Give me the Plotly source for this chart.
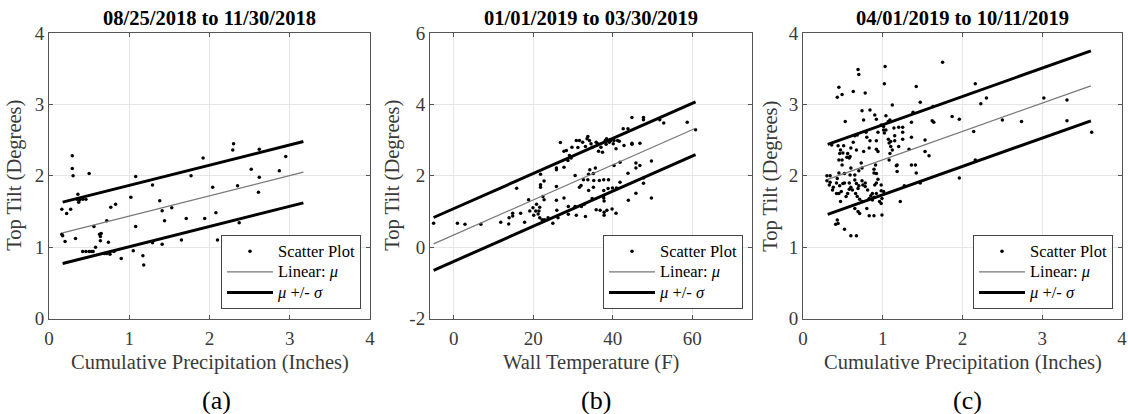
import plotly.graph_objects as go

# ---------------- data ----------------
titles = ["08/25/2018 to 11/30/2018", "01/01/2019 to 03/30/2019", "04/01/2019 to 10/11/2019"]
x_titles = ["Cumulative Precipitation (Inches)", "Wall Temperature (F)", "Cumulative Precipitation (Inches)"]
y_title = "Top Tilt (Degrees)"
panel_labels = ["(a)", "(b)", "(c)"]

a_x = [0.16, 0.22, 0.27, 0.29, 0.29, 0.30, 0.16, 0.17, 0.20, 0.33, 0.35, 0.36, 0.37, 0.38, 0.42,
       0.46, 0.50, 0.42, 0.46, 0.50, 0.53, 0.56, 0.58, 0.55, 0.63, 0.64, 0.64, 0.65, 0.69, 0.72,
       0.74, 0.72, 0.76, 0.77, 0.83, 0.81, 0.90, 1.02, 1.05, 1.08, 1.08, 1.17, 1.18, 1.29, 1.29,
       1.38, 1.41, 1.41, 1.44, 1.53, 1.65, 1.71, 1.77, 1.92, 1.94, 2.04, 2.08, 2.10, 2.29, 2.30,
       2.35, 2.37, 2.52, 2.62, 2.62, 2.61, 2.87, 2.95]
a_y = [1.53, 1.47, 1.53, 2.28, 2.10, 2.00, 1.18, 1.16, 1.08, 1.12, 1.67, 1.74, 1.63, 1.66, 1.67,
       1.67, 2.03, 0.94, 0.94, 0.94, 0.94, 1.29, 1.00, 0.94, 1.18, 1.15, 1.09, 1.19, 0.91, 1.37,
       1.07, 0.91, 0.90, 1.56, 1.60, 0.94, 0.84, 1.70, 0.95, 1.99, 1.29, 0.88, 0.75, 1.87, 1.06,
       1.65, 1.51, 1.04, 1.37, 1.55, 1.10, 1.40, 2.00, 2.25, 1.40, 1.84, 1.48, 1.10, 2.36, 2.45,
       1.86, 1.34, 2.09, 2.37, 1.98, 1.77, 2.07, 2.27]
a_fit_x = [0.17, 3.17]
a_fit_mu = [1.20, 2.05]
a_sigma = 0.43

b_x = [-5.1, 0.9, 2.8, 6.8, 11.8, 13.8, 13.9, 14.8, 14.8, 15.8, 16.8, 17.8, 18.8, 19.1, 19.9, 20.1,
       20.6, 20.8, 21.2, 21.4, 21.6, 21.6, 21.8, 21.8, 21.8, 22.2, 22.4, 22.7, 22.7, 22.8, 23.7, 24.9,
       25.8, 25.8, 25.8, 25.8, 25.9, 26.2, 26.8, 27.7, 27.7, 27.7, 28.3, 28.7, 28.8, 28.8, 29.1, 29.5,
       29.7, 30.5, 30.5, 30.8, 30.8, 31.2, 31.6, 31.6, 32.0, 32.1, 32.4, 32.6, 32.8, 33.1, 33.1, 33.5,
       33.7, 33.7, 33.9, 33.9, 34.1, 34.2, 34.5, 34.8, 34.8, 35.1, 35.1, 35.2, 35.6, 35.8, 35.8, 36.2,
       36.4, 36.6, 36.8, 37.0, 37.4, 37.7, 37.7, 37.7, 37.7, 37.8, 37.8, 37.8, 38.1, 38.3, 38.4, 38.5,
       38.8, 38.9, 39.1, 39.3, 39.5, 39.8, 39.9, 40.1, 40.3, 40.3, 40.8, 40.8, 40.9, 41.2, 41.6, 41.8,
       41.8, 42.6, 42.8, 43.8, 43.8, 43.9, 44.8, 44.8, 44.8, 45.8, 45.8, 45.8, 46.8, 46.8, 47.7, 47.7,
       47.7, 47.7, 49.7, 49.7, 51.8, 52.8, 58.7, 60.8]
b_y = [0.67, 0.67, 0.64, 0.64, 0.70, 0.65, 0.82, 0.87, 0.95, 1.65, 0.95, 0.70, 1.33, 1.01, 1.10, 0.89,
       1.01, 1.20, 0.93, 1.01, 0.82, 1.12, 2.04, 1.75, 1.68, 0.77, 1.42, 1.85, 1.33, 0.77, 0.82, 0.67,
       1.31, 1.70, 2.17, 2.22, 1.03, 0.82, 2.93, 2.69, 2.24, 1.38, 2.71, 2.43, 1.14, 0.92, 2.57, 2.50,
       2.80, 1.14, 2.01, 0.89, 2.99, 2.79, 1.68, 2.99, 1.73, 1.14, 2.94, 1.89, 1.20, 0.86, 2.82, 3.04,
       3.10, 1.89, 2.04, 1.59, 2.99, 2.17, 2.90, 2.80, 1.36, 2.06, 1.68, 1.87, 2.22, 1.05, 2.94, 2.90,
       2.69, 1.87, 1.03, 2.80, 2.66, 1.89, 1.59, 1.45, 1.38, 1.29, 0.98, 0.89, 2.99, 2.88, 3.04, 1.03,
       1.64, 1.89, 2.94, 3.01, 2.99, 1.07, 1.66, 2.90, 2.99, 2.29, 2.76, 0.95, 1.66, 2.99, 2.97, 1.82,
       2.38, 3.32, 2.85, 3.32, 2.07, 1.31, 3.63, 2.91, 2.88, 2.36, 2.22, 1.51, 2.91, 2.29, 3.63, 3.57,
       1.94, 1.79, 2.41, 1.38, 3.57, 3.48, 3.50, 3.29]
b_fit_x = [-5.1, 60.8]
b_fit_mu = [0.09, 3.33]
b_sigma = 0.74

c_x = [0.45, 0.43, 0.49, 0.69, 0.70, 0.63, 0.78, 1.03, 1.02, 1.75, 1.42, 1.47, 1.12, 0.74, 0.84,
       0.53, 0.76, 0.90, 0.92, 1.04, 1.07, 1.09, 0.98, 1.01, 1.01, 1.04, 1.02, 1.14, 1.20, 1.25,
       1.25, 1.38, 1.36, 1.63, 1.62, 1.64, 1.87, 1.96, 2.16, 2.23, 2.30, 2.50, 2.74, 3.02, 3.31,
       3.31, 2.14, 2.16, 1.96, 1.36, 1.33, 1.53, 1.58, 1.53, 1.36, 1.41, 1.42, 1.47, 1.27, 1.22,
       1.18, 1.17, 1.18, 1.09, 1.08, 1.12, 1.10, 1.07, 1.08, 1.15, 1.15, 0.83, 0.84, 0.92, 0.94,
       0.92, 0.94, 0.76, 0.79, 0.80, 0.91, 0.89, 0.89, 0.92, 0.94, 0.92, 0.90, 0.98, 0.98, 1.01,
       0.99, 0.96, 0.98, 0.87, 0.85, 0.83, 0.87, 0.89, 0.92, 0.81, 0.78, 0.78, 0.74, 0.75, 0.73,
       0.74, 0.70, 0.67, 0.63, 0.65, 0.68, 0.58, 0.56, 0.60, 0.59, 0.65, 0.65, 0.67, 0.70, 0.69,
       0.60, 0.58, 0.56, 0.54, 0.62, 0.66, 0.68, 0.71, 0.74, 0.65, 0.69, 0.71, 0.83, 0.89, 0.99,
       0.80, 0.47, 0.44, 0.41, 0.52, 0.60, 0.67, 0.43, 0.30, 0.34, 0.30, 0.33, 0.38, 0.42, 0.43,
       0.45, 0.49, 0.52, 0.50, 0.46, 0.58, 0.52, 0.36, 0.44, 0.47, 0.51, 0.50, 0.46, 0.45, 0.49,
       0.60, 0.59, 0.55, 0.34, 0.37, 0.45, 0.48, 0.42, 1.25, 1.20, 1.10, 3.62]
c_y = [3.24, 3.10, 3.14, 3.49, 3.42, 3.18, 3.16, 3.53, 3.29, 3.59, 3.25, 3.03, 2.99, 2.91, 2.92,
       2.76, 2.78, 2.85, 2.79, 2.84, 2.76, 2.78, 2.71, 2.69, 2.64, 2.64, 2.60, 2.67, 2.68, 2.68,
       2.61, 2.89, 2.75, 2.97, 2.77, 2.75, 2.83, 2.79, 3.29, 3.01, 3.09, 2.78, 2.76, 3.09, 3.06,
       2.77, 2.62, 2.22, 1.97, 2.54, 2.37, 2.34, 2.28, 2.50, 2.15, 2.15, 2.04, 1.90, 1.86, 1.64,
       2.15, 2.14, 2.06, 2.31, 2.22, 2.36, 2.41, 2.51, 2.46, 2.49, 2.56, 2.39, 2.49, 2.49, 2.61,
       2.37, 2.34, 2.34, 2.61, 2.54, 2.15, 2.09, 2.04, 2.03, 1.95, 1.90, 1.87, 1.87, 1.79, 1.78,
       1.68, 1.64, 1.61, 1.75, 1.72, 1.68, 1.66, 1.70, 1.75, 1.80, 1.85, 1.90, 1.93, 1.87, 2.18,
       2.11, 2.07, 2.36, 2.47, 2.56, 2.57, 2.25, 2.31, 2.11, 2.01, 2.01, 1.94, 1.89, 1.86, 1.82,
       1.84, 1.81, 1.75, 1.71, 1.80, 1.75, 1.71, 1.67, 1.64, 1.54, 1.50, 1.47, 1.44, 1.44, 1.45,
       1.54, 1.64, 1.33, 1.32, 1.25, 1.16, 1.16, 1.38, 2.00, 2.00, 1.93, 1.87, 1.84, 1.90, 1.96,
       2.04, 2.15, 2.03, 1.89, 1.86, 1.90, 1.90, 2.43, 2.42, 2.36, 2.42, 2.32, 2.31, 2.22, 2.22,
       2.39, 2.27, 2.26, 1.91, 1.80, 1.75, 1.78, 1.75, 2.51, 2.41, 2.48, 2.61]
c_fit_x = [0.31, 3.61]
c_fit_mu = [1.95, 3.26]
c_sigma = 0.49

x_ranges = [[0, 4], [-6, 75], [0, 4]]
y_ranges = [[0, 4], [-2, 6], [0, 4]]
x_ticks = [[0, 1, 2, 3, 4], [0, 20, 40, 60], [0, 1, 2, 3, 4]]
x_ticktext = [["0", "1", "2", "3", "4"], ["0", "20", "40", "60"], ["0", "1", "2", "3", "4"]]
y_ticks = [[0, 1, 2, 3, 4], [-2, 0, 2, 4, 6], [0, 1, 2, 3, 4]]
y_ticktext = [["0", "1", "2", "3", "4"], ["-2", "0", "2", "4", "6"], ["0", "1", "2", "3", "4"]]

legend_names = ["Scatter Plot", "Linear: <i>μ</i>", "<i>μ</i> +/- <i>σ</i>"]

# ---------------- layout geometry (pixels) ----------------
W, H = 1128, 414
x_px = [(49, 370), (430, 752), (803, 1122)]
y_top, y_bot = 33, 318.5
ytitle_px = [15, 393, 771]
plabel_px = [217, 596, 967]
legend_right_px = [361, 743, 1113]
legend_bot_px = 309

FONT = "Times New Roman"
AX_COL = "#555555"
TXT_COL = "#3a3a3a"
LEG_TXT = '<span style="font-size:16.5px">{}</span>'

fig = go.Figure()
panels = [(a_x, a_y, a_fit_x, a_fit_mu, a_sigma),
          (b_x, b_y, b_fit_x, b_fit_mu, b_sigma),
          (c_x, c_y, c_fit_x, c_fit_mu, c_sigma)]

annotations = []
for i, (px, py, fx, fmu, sg) in enumerate(panels):
    k = "" if i == 0 else str(i + 1)
    xa, ya = "x" + k, "y" + k
    leg = "legend" + k
    fig.add_trace(go.Scatter(x=px, y=py, mode="markers", name=LEG_TXT.format(legend_names[0]),
                             marker=dict(color="black", size=3.5), xaxis=xa, yaxis=ya, legend=leg))
    fig.add_trace(go.Scatter(x=fx, y=fmu, mode="lines", name=LEG_TXT.format(legend_names[1]),
                             line=dict(color="#777777", width=1.2), xaxis=xa, yaxis=ya, legend=leg))
    fig.add_trace(go.Scatter(x=fx, y=[m + sg for m in fmu], mode="lines",
                             name=LEG_TXT.format(legend_names[2]),
                             line=dict(color="black", width=3), xaxis=xa, yaxis=ya, legend=leg))
    fig.add_trace(go.Scatter(x=fx, y=[m - sg for m in fmu], mode="lines", showlegend=False,
                             line=dict(color="black", width=3), xaxis=xa, yaxis=ya, legend=leg))

    x0, x1 = x_px[i]
    axis_common = dict(showline=True, linecolor=AX_COL, linewidth=1, mirror="ticks",
                       ticks="inside", ticklen=4, tickcolor=AX_COL, automargin=False,
                       showgrid=True, gridcolor="#e6e6e6", gridwidth=1, zeroline=False,
                       tickfont=dict(family=FONT, size=19, color=TXT_COL))
    fig.update_layout(**{
        "xaxis" + k: dict(domain=[x0 / W, x1 / W], range=x_ranges[i], tickvals=x_ticks[i],
                          ticktext=x_ticktext[i], anchor=ya, ticklabelstandoff=3, **axis_common),
        "yaxis" + k: dict(domain=[1 - y_bot / H, 1 - y_top / H], range=y_ranges[i],
                          tickvals=y_ticks[i], ticktext=y_ticktext[i], anchor=xa, **axis_common),
        leg: dict(x=legend_right_px[i] / W, y=1 - legend_bot_px / H, xanchor="right", yanchor="bottom",
                  xref="paper", yref="paper", bgcolor="white", bordercolor="#444444", borderwidth=1,
                  font=dict(family=FONT, size=13.5, color="black"), itemwidth=46,
                  tracegroupgap=0, traceorder="normal"),
    })
    cx = (x0 + x1) / 2
    annotations.append(dict(text="<b>" + titles[i] + "</b>", x=cx / W, y=1 - 18 / H, xref="paper",
                            yref="paper", showarrow=False, xanchor="center", yanchor="middle",
                            font=dict(family=FONT, size=20.5, color="black")))
    annotations.append(dict(text=x_titles[i], x=cx / W, y=1 - 362 / H, xref="paper", yref="paper",
                            showarrow=False, xanchor="center", yanchor="middle",
                            font=dict(family=FONT, size=20.5, color=TXT_COL)))
    annotations.append(dict(text=y_title, x=ytitle_px[i] / W, y=1 - (y_top + y_bot) / 2 / H,
                            xref="paper", yref="paper", showarrow=False, textangle=-90,
                            xanchor="center", yanchor="middle",
                            font=dict(family=FONT, size=20.5, color=TXT_COL)))
    annotations.append(dict(text=panel_labels[i], x=plabel_px[i] / W, y=1 - 400 / H, xref="paper",
                            yref="paper", showarrow=False, xanchor="center", yanchor="middle",
                            font=dict(family=FONT, size=26, color="black")))

fig.update_layout(width=W, height=H, margin=dict(l=0, r=0, t=0, b=0, autoexpand=False),
                  paper_bgcolor="white", plot_bgcolor="white", annotations=annotations,
                  font=dict(family=FONT))

fig.write_html("out.html")
